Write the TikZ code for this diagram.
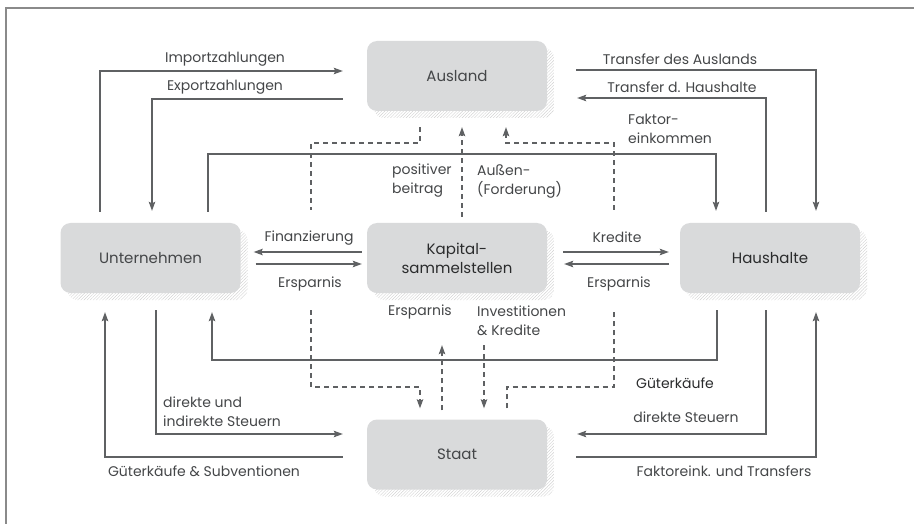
\documentclass[tikz,border=0pt]{standalone}
\usepackage{fontspec}
\setmainfont{Poppins}
\usetikzlibrary{arrows.meta,patterns.meta,shadows}
\definecolor{boxfill}{HTML}{D9DADB}
\definecolor{ln}{HTML}{5F6163}
\definecolor{txt}{HTML}{444648}
\definecolor{txtdark}{HTML}{2A2B2C}
\definecolor{frm}{HTML}{8A8A8A}
\begin{document}
\begin{tikzpicture}[x=1pt,y=-1pt,
 box/.style={rounded corners=10pt, fill=boxfill, minimum width=180pt, minimum height=70pt, inner sep=0pt,
   font=\fontsize{15}{19}\selectfont, text=txt, align=center,
   general shadow={shadow xshift=7pt, shadow yshift=-7pt, pattern={Lines[angle=45,distance=2.2pt,line width=0.4pt]}, pattern color=black!18}},
 lbl/.style={font=\fontsize{14}{19}\selectfont, text=txt, inner sep=0pt, align=left},
 flow/.style={draw=ln, line width=1.1pt, -{Stealth[length=9pt,width=6.5pt,inset=1.5pt]}},
 plain/.style={draw=ln, line width=1.1pt},
 dflow/.style={flow, dash pattern=on 5pt off 4pt},
 dplain/.style={plain, dash pattern=on 5pt off 4pt},
]
\useasboundingbox (0,0) rectangle (914,524);
\draw[frm, line width=1.5pt] (6,524) -- (6,8) -- (914,8);

% boxes
\node[box] (A) at (457,76) {Ausland};
\node[box] (U) at (150.5,258) {Unternehmen};
\node[box, text=txtdark] (K) at (457,258) {Kapital-\\sammelstellen};
\node[box, text=txtdark] (H) at (770,258) {Haushalte};
\node[box] (S) at (457,454.5) {Staat};

% dashed coordinates
\coordinate (d1) at (311,210);
\coordinate (d2) at (311,310);
\coordinate (d3) at (614,310);
\coordinate (d4) at (614,210);

% solid connectors
\draw[flow, shorten <=11pt, shorten >=24pt] (U.north -| 100,0) |- (A.west |- 0,71);
\draw[flow, shorten <=24pt, shorten >=12pt] (A.west |- 0,99) -| (U.north -| 152,0);
\draw[flow, shorten <=11pt, shorten >=12pt] (U.north -| 208,0) -- (208,154) -| (H.north -| 716,0);
\draw[flow, shorten <=29pt, shorten >=12pt] (A.east |- 0,70) -| (H.north -| 816,0);
\draw[flow, shorten <=11pt, shorten >=30pt] (H.north -| 766,0) |- (A.east |- 0,98);
\draw[flow, shorten <=5pt, shorten >=13pt] (K.west |- 0,252) -- (U.east |- 0,252);
\draw[flow, shorten <=15pt, shorten >=5pt] (U.east |- 0,264) -- (K.west |- 0,264);
\draw[flow, shorten <=16pt, shorten >=11pt] (K.east |- 0,252) -- (H.west |- 0,252);
\draw[flow, shorten <=11pt, shorten >=17pt] (H.west |- 0,264) -- (K.east |- 0,264);
\draw[flow, shorten <=24pt, shorten >=19pt] (S.west |- 0,457) -| (U.south -| 105,0);
\draw[flow, shorten <=17pt, shorten >=24pt] (U.south -| 156,0) |- (S.west |- 0,434);
\draw[flow, shorten <=17pt, shorten >=19pt] (H.south -| 717,0) -- (717,360) -| (U.south -| 212,0);
\draw[flow, shorten <=17pt, shorten >=30pt] (H.south -| 766,0) |- (S.east |- 0,434);
\draw[flow, shorten <=29pt, shorten >=19pt] (S.east |- 0,457) -| (H.south -| 816,0);

% dashed connectors
\draw[dplain, shorten <=16pt] (A.south -| 420,0) -- (420,143) -| (d1);
\draw[dflow, shorten >=11pt] (d2) |- (420,387) -- (S.north -| 420,0);
\draw[dplain, shorten <=11pt] (S.north -| 507,0) -- (507,387) -| (d3);
\draw[dflow, shorten >=16pt] (d4) |- (506,143) -- (A.south -| 506,0);
\draw[dflow, shorten <=6pt, shorten >=16pt] (K.north -| 462,0) -- (A.south -| 462,0);
\draw[dflow, shorten <=9pt, shorten >=52pt] (S.north -| 442,0) -- (K.south -| 442,0);
\draw[dflow, shorten <=52pt, shorten >=11pt] (K.south -| 484,0) -- (S.north -| 484,0);

% labels
\node[lbl] (limp) at (225,59) {Importzahlungen};
\node[lbl] (lexp) at (225,87) {Exportzahlungen};
\node[lbl] (ltda) at (680,59) {Transfer des Auslands};
\node[lbl] (ltdh) at (682,87) {Transfer d. Haushalte};
\node[lbl, anchor=west] (lfak) at (628,129) {Faktor-\\einkommen};
\node[lbl, anchor=west] (lpos) at (392,181) {positiver\\beitrag};
\node[lbl, anchor=west] (laus) at (477,181) {Außen-\\(Forderung)};
\node[lbl] (lfin) at (309,238) {Finanzierung};
\node[lbl] (lers1) at (310,284) {Ersparnis};
\node[lbl] (lkre) at (617,237) {Kredite};
\node[lbl] (lers2) at (619,284) {Ersparnis};
\node[lbl] (lers3) at (420,312) {Ersparnis};
\node[lbl, anchor=west] (linv) at (477,321) {Investitionen\\\& Kredite};
\node[lbl, anchor=west] (ldis) at (163,412) {direkte und\\indirekte Steuern};
\node[lbl] (lgks) at (204,471) {Güterkäufe \& Subventionen};
\node[lbl, text=txtdark] (lgk) at (675,383) {Güterkäufe};
\node[lbl] (lds) at (686,417) {direkte Steuern};
\node[lbl] (lft) at (724,471) {Faktoreink. und Transfers};
\end{tikzpicture}
\end{document}
